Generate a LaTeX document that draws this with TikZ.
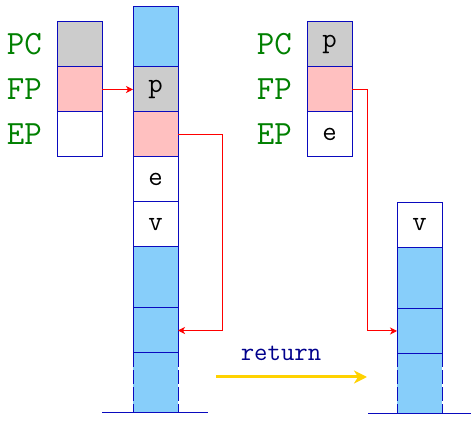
\documentclass[tikz,border=0pt]{standalone}
\usepackage{tikz}
\usepackage{color}
\usetikzlibrary{positioning,arrows.meta}

\definecolor{stackblue}{RGB}{135,206,250}
\definecolor{cellgray}{RGB}{204,204,204}
\definecolor{cellpink}{RGB}{255,192,192}
\definecolor{cellline}{RGB}{10,10,190}
\definecolor{reggreen}{RGB}{0,128,0}
\definecolor{retgold}{RGB}{255,210,0}
\definecolor{retnavy}{RGB}{0,0,140}

\begin{document}
\begin{tikzpicture}[x=0.5pt,y=-0.5pt,
  cell/.style={draw=cellline,line width=0.5pt,minimum width=22.5pt,minimum height=22.5pt,
    inner sep=0pt,outer sep=0pt,font=\ttfamily\fontsize{14}{16}\selectfont},
  tallcell/.style={cell,fill=stackblue,minimum height=30pt},
  bluecell/.style={cell,fill=stackblue},
  endcell/.style={fill=stackblue,minimum width=22.5pt,minimum height=30pt,inner sep=0pt,outer sep=0pt},
  reglabel/.style={text=reggreen,font=\ttfamily\fontsize{17}{20}\selectfont},
  link/.style={red,line width=0.5pt,-{Stealth[length=3.5pt,width=3.5pt,inset=1pt]}},
  retarrow/.style={retgold,line width=1.5pt,-{Stealth[length=6.5pt,width=6.5pt,inset=2pt]}},
  groundline/.style={cellline,line width=0.5pt},
  endside/.style={cellline,line width=0.5pt,dash pattern=on 7pt off 1.5pt}]
\useasboundingbox (0,0) rectangle (471,421);

% registers before the return
\node[cell,fill=cellgray,anchor=north west] (pcA) at (57,22) {};
\node[cell,fill=cellpink,below=0pt of pcA] (fpA) {};
\node[cell,fill=white,below=0pt of fpA] (epA) {};
\node[reglabel,left=4pt of pcA] (pcAlabel) {PC};
\node[reglabel,left=4pt of fpA] (fpAlabel) {FP};
\node[reglabel,left=4pt of epA] (epAlabel) {EP};

% stack before the return
\node[tallcell,anchor=north west] (topA) at (133,7) {};
\node[cell,fill=cellgray,below=0pt of topA] (pA) {p};
\node[cell,fill=cellpink,below=0pt of pA] (dynA) {};
\node[cell,fill=white,below=0pt of dynA] (eA) {e};
\node[cell,fill=white,below=0pt of eA] (vA) {v};
\node[tallcell,minimum height=30.5pt,below=0pt of vA] (oldA) {};
\node[bluecell,below=0pt of oldA] (frameA) {};
\node[endcell,below=0pt of frameA] (endA) {};
\draw[groundline] (endA.north west) -- (endA.north east);
\draw[endside] (endA.north west) -- (endA.south west);
\draw[endside] (endA.north east) -- (endA.south east);
\draw[groundline] ([xshift=-15.5pt]endA.south west) -- ([xshift=15pt]endA.south east);

% registers after the return
\node[cell,fill=cellgray,anchor=north west] (pcB) at (307,22) {p};
\node[cell,fill=cellpink,below=0pt of pcB] (fpB) {};
\node[cell,fill=white,below=0pt of fpB] (epB) {e};
\node[reglabel,left=4pt of pcB] (pcBlabel) {PC};
\node[reglabel,left=4pt of fpB] (fpBlabel) {FP};
\node[reglabel,left=4pt of epB] (epBlabel) {EP};

% stack after the return
\node[cell,fill=white,anchor=north west] (vB) at (397,202.5) {v};
\node[tallcell,minimum height=30.5pt,below=0pt of vB] (oldB) {};
\node[bluecell,below=0pt of oldB] (frameB) {};
\node[endcell,below=0pt of frameB] (endB) {};
\draw[groundline] (endB.north west) -- (endB.north east);
\draw[endside] (endB.north west) -- (endB.south west);
\draw[endside] (endB.north east) -- (endB.south east);
\draw[groundline] ([xshift=-14.5pt]endB.south west) -- ([xshift=14.5pt]endB.south east);

% frame pointers
\draw[link] (fpA.east) -- (pA.west);
\draw[link] (dynA.east) -- ++(44,0) |- (frameA.east);
\draw[link] (fpB.east) -- ++(15,0) |- (frameB.west);

% return
\coordinate (retfrom) at (216,377);
\coordinate (retto) at (367,377);
\draw[retarrow] (retfrom) -- (retto);
\node[text=retnavy,font=\ttfamily\fontsize{13}{15}\selectfont] (retlabel) at (281,353) {return};
\end{tikzpicture}
\end{document}
